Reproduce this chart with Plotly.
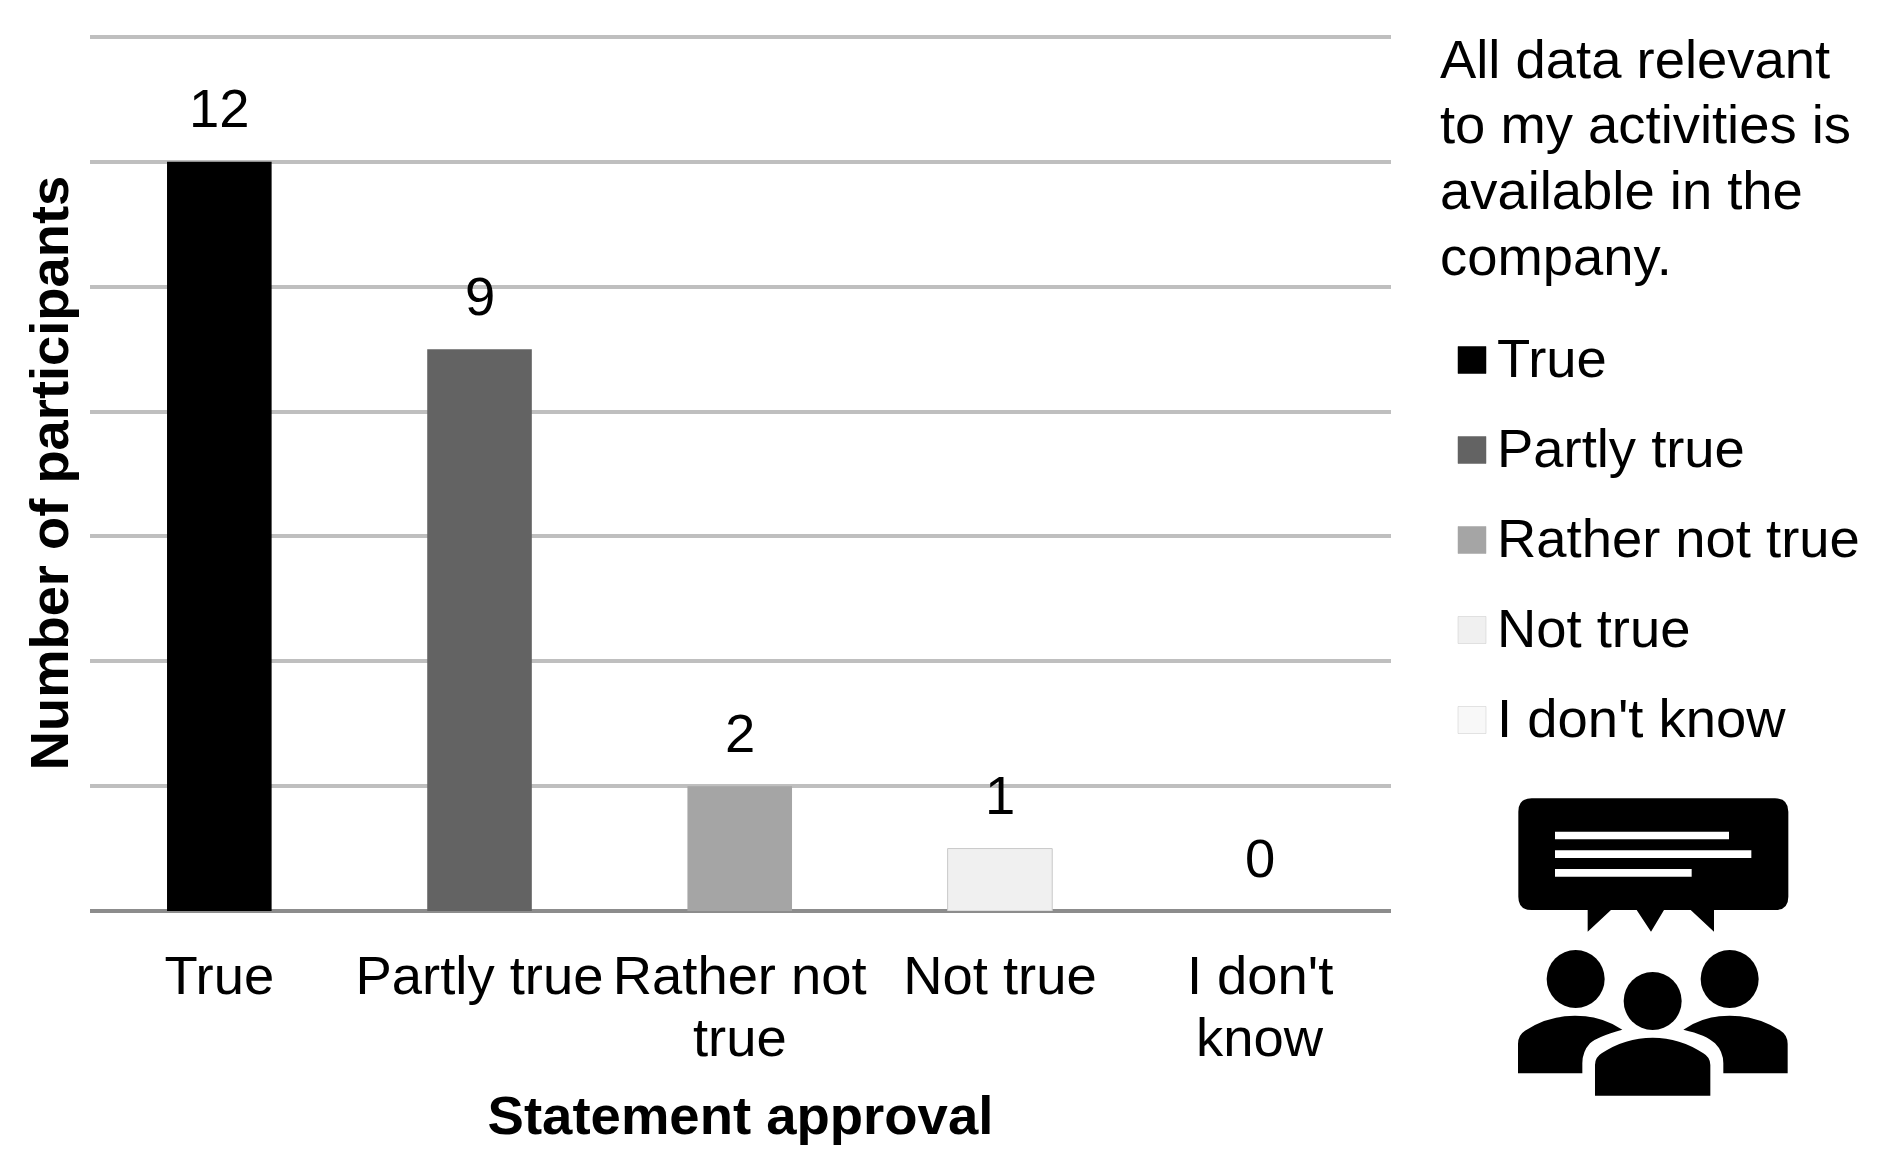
import plotly.graph_objects as go

categories = ["True", "Partly true", "Rather not true", "Not true", "I don't know"]
values = [12, 9, 2, 1, 0]
bar_colors = ["#000000", "#636363", "#A5A5A5", "#F0F0F0", "#F8F8F8"]
bar_borders = ["#000000", "#636363", "#A5A5A5", "#C8C8C8", "#C8C8C8"]
bar_border_widths = [0, 0, 0, 1, 0]
tick_first_lines = ["True", "Partly true", "Rather not", "Not true", "I don't"]
tick_second_lines = ["", "", "true", "", "know"]
title_lines = ["All data relevant", "to my activities is", "available in the", "company."]
y_ticks = list(range(0, 15, 2))

W, H = 1880, 1168
FONT = "Liberation Sans, Arial, sans-serif"
FS = 54.4
L, R, T, B = 90, 489, 35, 257
Y_MAX = 14.032


def fx(x):
    return (x - L) / (W - L - R)


def fy(y):
    return 1 - (y - T) / (H - T - B)


fig = go.Figure()
fig.add_trace(go.Bar(
    x=categories, y=values, width=0.402,
    marker=dict(color=bar_colors, line=dict(color=bar_borders, width=bar_border_widths)),
    showlegend=False, hoverinfo="x+y",
))

annotations = []
for c, v in zip(categories, values):
    annotations.append(dict(x=c, y=v, xref="x", yref="y", text=str(v), showarrow=False,
                            yshift=53, xanchor="center", yanchor="middle",
                            font=dict(family=FONT, size=FS, color="#000")))
for c, t in zip(categories, tick_second_lines):
    if t:
        annotations.append(dict(x=c, y=fy(1037), xref="x", yref="paper", text=t, showarrow=False,
                                xanchor="center", yanchor="middle",
                                font=dict(family=FONT, size=FS, color="#000")))
for t, yc in zip(title_lines, [59, 125, 190, 256]):
    annotations.append(dict(x=fx(1438), y=fy(yc), xref="paper", yref="paper", text=t, showarrow=False,
                            xanchor="left", yanchor="middle",
                            font=dict(family=FONT, size=FS, color="#000")))

shapes = []
for c, col, bc, yc in zip(categories, bar_colors, bar_borders, [360, 450, 540, 630, 720]):
    shapes.append(dict(type="rect", xref="paper", yref="paper",
                       x0=fx(1458), x1=fx(1486), y0=fy(yc - 13.5), y1=fy(yc + 13.5),
                       fillcolor=col, line=dict(color=bc if col in ("#F0F0F0", "#F8F8F8") else col, width=0.5)))
    annotations.append(dict(x=fx(1495), y=fy(yc - 1.5), xref="paper", yref="paper", text=c, showarrow=False,
                            xanchor="left", yanchor="middle",
                            font=dict(family=FONT, size=FS, color="#000")))


# icon, drawn in the reference crop's coordinates (origin 1420,770, 3x)
def ix(x):
    return fx(1420 + x / 3)


def iy(y):
    return fy(770 + y / 3)


def path(cmds):
    out = []
    for cmd in cmds:
        letter, pts = cmd[0], cmd[1:]
        out.append(letter + " ".join(f"{ix(a):.5f},{iy(b):.5f}" for a, b in pts))
    return " ".join(out) + " Z"


def black(cmds):
    shapes.append(dict(type="path", xref="paper", yref="paper", path=path(cmds),
                       fillcolor="#000", line=dict(width=0)))


black([("M", (335, 85)), ("L", (1065, 85)), ("Q", (1105, 85), (1105, 125)), ("L", (1105, 380)),
       ("Q", (1105, 420), (1065, 420)), ("L", (882, 420)), ("L", (882, 485)), ("L", (812, 420)),
       ("L", (732, 420)), ("L", (693, 485)), ("L", (650, 420)), ("L", (573, 420)), ("L", (503, 485)),
       ("L", (503, 420)), ("L", (335, 420)), ("Q", (295, 420), (295, 380)), ("L", (295, 125)),
       ("Q", (295, 85), (335, 85))])
for x0, x1, y0, y1 in [(405, 927, 185, 208), (405, 994, 241, 264), (405, 815, 297, 320)]:
    shapes.append(dict(type="rect", xref="paper", yref="paper", x0=ix(x0), x1=ix(x1), y0=iy(y0), y1=iy(y1),
                       fillcolor="#fff", line=dict(width=0)))
for cx, cy in [(467, 627), (929, 627), (698, 693)]:
    shapes.append(dict(type="circle", xref="paper", yref="paper", x0=ix(cx - 87), x1=ix(cx + 87),
                       y0=iy(cy - 87), y1=iy(cy + 87), fillcolor="#000", line=dict(width=0)))
black([("M", (294, 910)), ("L", (294, 822)), ("Q", (294, 795), (315, 782)), ("Q", (385, 737), (465, 737)),
       ("Q", (545, 737), (607, 779)), ("Q", (530, 800), (510, 820)), ("Q", (487, 845), (487, 880)),
       ("L", (487, 910))])
black([("M", (1103, 910)), ("L", (1103, 822)), ("Q", (1103, 795), (1082, 782)), ("Q", (1010, 737), (929, 737)),
       ("Q", (850, 737), (790, 779)), ("Q", (860, 795), (885, 820)), ("Q", (910, 845), (910, 880)),
       ("L", (910, 910))])
black([("M", (525, 977)), ("L", (525, 885)), ("Q", (525, 862), (545, 850)), ("Q", (615, 803), (698, 803)),
       ("Q", (780, 803), (850, 850)), ("Q", (871, 862), (871, 885)), ("L", (871, 977))])

fig.update_layout(
    width=W, height=H, autosize=False,
    margin=dict(l=L, r=R, t=T, b=B, pad=0),
    paper_bgcolor="#fff", plot_bgcolor="#fff",
    font=dict(family=FONT, size=FS, color="#000"),
    annotations=annotations, shapes=shapes, showlegend=False,
    xaxis=dict(
        type="category", range=[-0.497, 4.503], tickmode="array", tickvals=categories, ticktext=tick_first_lines,
        tickangle=0, ticks="", ticklabelstandoff=28, showgrid=False, zeroline=False, showline=False,
        automargin=False,
        title=dict(text="<b>Statement approval</b>", font=dict(family=FONT, size=54.5), standoff=90),
    ),
    yaxis=dict(
        range=[0, Y_MAX], tickmode="array", tickvals=y_ticks, showticklabels=False, ticks="",
        showgrid=True, gridcolor="#BFBFBF", gridwidth=3.5, zeroline=True, zerolinecolor="#8C8C8C", zerolinewidth=3.5,
        showline=False, automargin=False,
        title=dict(text="<b>Number of participants</b>", font=dict(family=FONT, size=54.3), standoff=2),
    ),
)

fig.write_html("out.html", config=dict(displayModeBar=False),
               post_script="document.body.style.margin='0';document.body.style.overflow='hidden';")
